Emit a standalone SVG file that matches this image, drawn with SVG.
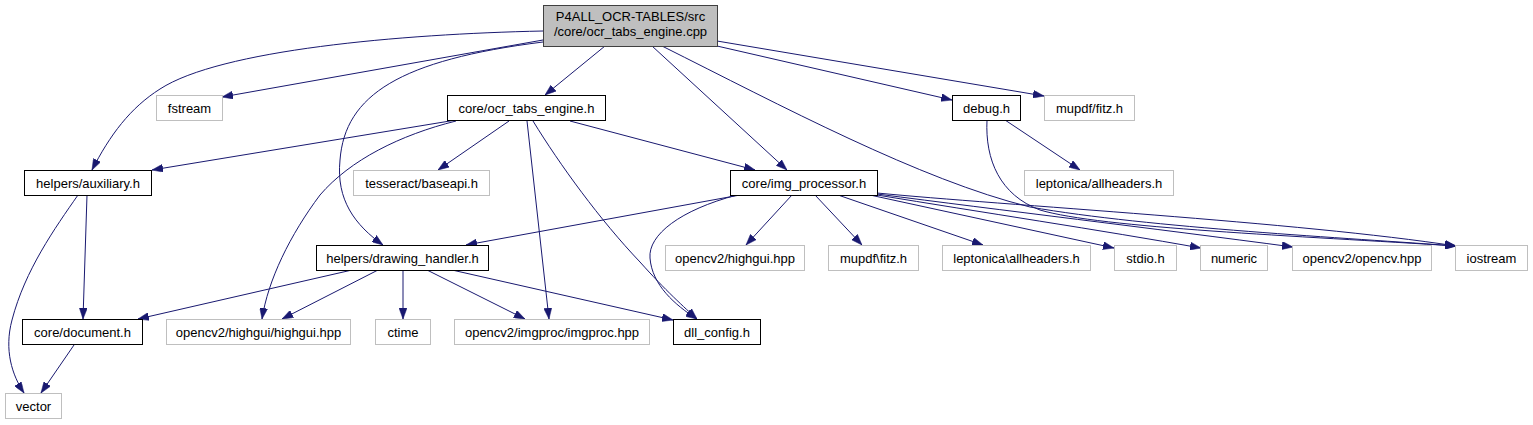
<svg xmlns="http://www.w3.org/2000/svg" width="1533" height="425" viewBox="0 0 1533 425">
<style>
.n rect{fill:#fff;stroke:#bfbfbf;stroke-width:1}
.n.d rect{stroke:#000}
.n.root rect{fill:#bfbfbf;stroke:#404040}
.n text{font-family:"Liberation Sans",Arial,sans-serif;font-size:13px;fill:#000;text-anchor:middle}
#edges path{fill:none;stroke:#191970;stroke-width:1;marker-end:url(#arr)}
</style>
<defs>
<marker id="arr" viewBox="0 0 11 8" refX="11" refY="4" markerWidth="11" markerHeight="8" markerUnits="userSpaceOnUse" orient="auto">
<path d="M0,0 L11,4 L0,8 z" fill="#191970" stroke="#191970" stroke-width="0.5"/>
</marker>
</defs>
<rect width="1533" height="425" fill="#fff"/>
<g id="edges">
<path d="M543,31 C400,34 220,50 160,89 C130,108 110,135 92,170"/>
<path d="M543,40 L222,97"/>
<path d="M543,42 C400,60 345,95 340,160 C336,200 355,225 383,245"/>
<path d="M605,46 L545,95"/>
<path d="M652,46 L787,170"/>
<path d="M662,46 C780,105 920,180 1030,207 C1150,228 1350,238 1456,246"/>
<path d="M717,46 L952,100"/>
<path d="M717,41 L1044,96"/>
<path d="M456,120 L152,170"/>
<path d="M456,121 C400,135 350,160 320,195 C290,235 268,280 262,319"/>
<path d="M509,121 L438,170"/>
<path d="M527,121 L549,319"/>
<path d="M533,121 C560,165 600,220 640,262 C665,290 685,308 697,319"/>
<path d="M570,121 L755,170"/>
<path d="M1005,120 L1080,170"/>
<path d="M987,120 C985,160 1000,195 1040,210 C1100,228 1300,236 1456,246"/>
<path d="M740,195 L466,245"/>
<path d="M737,195 C680,210 648,235 650,258 C652,285 675,305 697,319"/>
<path d="M792,195 L746,245"/>
<path d="M815,195 L862,245"/>
<path d="M838,195 L983,245"/>
<path d="M870,195 L1114,248"/>
<path d="M877,195 C980,212 1100,230 1201,248"/>
<path d="M877,194 C1000,210 1150,228 1293,247"/>
<path d="M877,193 C1000,205 1300,222 1456,246"/>
<path d="M352,270 L138,319"/>
<path d="M378,270 L282,319"/>
<path d="M403,270 L403,319"/>
<path d="M427,270 L525,319"/>
<path d="M452,270 L673,320"/>
<path d="M78,195 C55,228 25,270 12,320 C4,350 12,375 24,393"/>
<path d="M87,195 L83,319"/>
<path d="M74,345 L41,393"/>
</g>
<g id="node-root" class="n d root"><rect x="543.5" y="5.5" width="174" height="41"/><text x="630.5" y="21">P4ALL_OCR-TABLES/src</text><text x="630.5" y="36">/core/ocr_tabs_engine.cpp</text></g>
<g id="node-fstream" class="n"><rect x="156.5" y="95.5" width="66" height="25"/><text x="189.5" y="112.5">fstream</text></g>
<g id="node-ocr_tabs_engine_h" class="n d"><rect x="447.5" y="95.5" width="158" height="25"/><text x="526.5" y="112.5">core/ocr_tabs_engine.h</text></g>
<g id="node-debug_h" class="n d"><rect x="952.5" y="95.5" width="68" height="25"/><text x="986.5" y="112.5">debug.h</text></g>
<g id="node-mupdf_fitz" class="n"><rect x="1044.5" y="95.5" width="90" height="25"/><text x="1089.5" y="112.5">mupdf/fitz.h</text></g>
<g id="node-auxiliary_h" class="n d"><rect x="24.5" y="170.5" width="127" height="25"/><text x="88" y="187.5">helpers/auxiliary.h</text></g>
<g id="node-tesseract" class="n"><rect x="353.5" y="170.5" width="136" height="25"/><text x="421.5" y="187.5">tesseract/baseapi.h</text></g>
<g id="node-img_processor_h" class="n d"><rect x="730.5" y="170.5" width="147" height="25"/><text x="804" y="187.5">core/img_processor.h</text></g>
<g id="node-leptonica_fwd" class="n"><rect x="1024.5" y="170.5" width="149" height="25"/><text x="1099" y="187.5">leptonica/allheaders.h</text></g>
<g id="node-drawing_handler_h" class="n d"><rect x="316.5" y="245.5" width="172" height="25"/><text x="402.5" y="262.5">helpers/drawing_handler.h</text></g>
<g id="node-highgui_hpp" class="n"><rect x="665.5" y="245.5" width="139" height="25"/><text x="735" y="262.5">opencv2/highgui.hpp</text></g>
<g id="node-mupdf_bs" class="n"><rect x="828.5" y="245.5" width="90" height="25"/><text x="873.5" y="262.5">mupdf\fitz.h</text></g>
<g id="node-leptonica_bs" class="n"><rect x="942.5" y="245.5" width="148" height="25"/><text x="1016.5" y="262.5">leptonica\allheaders.h</text></g>
<g id="node-stdio" class="n"><rect x="1114.5" y="245.5" width="62" height="25"/><text x="1145.5" y="262.5">stdio.h</text></g>
<g id="node-numeric" class="n"><rect x="1200.5" y="245.5" width="67" height="25"/><text x="1234" y="262.5">numeric</text></g>
<g id="node-opencv_hpp" class="n"><rect x="1292.5" y="245.5" width="139" height="25"/><text x="1362" y="262.5">opencv2/opencv.hpp</text></g>
<g id="node-iostream" class="n"><rect x="1455.5" y="245.5" width="72" height="25"/><text x="1491.5" y="262.5">iostream</text></g>
<g id="node-document_h" class="n d"><rect x="22.5" y="319.5" width="120" height="25"/><text x="82.5" y="336.5">core/document.h</text></g>
<g id="node-highgui_highgui" class="n"><rect x="166.5" y="319.5" width="184" height="25"/><text x="258.5" y="336.5">opencv2/highgui/highgui.hpp</text></g>
<g id="node-ctime" class="n"><rect x="375.5" y="319.5" width="55" height="25"/><text x="403" y="336.5">ctime</text></g>
<g id="node-imgproc" class="n"><rect x="454.5" y="319.5" width="195" height="25"/><text x="552" y="336.5">opencv2/imgproc/imgproc.hpp</text></g>
<g id="node-dll_config_h" class="n d"><rect x="673.5" y="319.5" width="87" height="25"/><text x="717" y="336.5">dll_config.h</text></g>
<g id="node-vector" class="n"><rect x="5.5" y="393.5" width="56" height="25"/><text x="33.5" y="410.5">vector</text></g>
</svg>
